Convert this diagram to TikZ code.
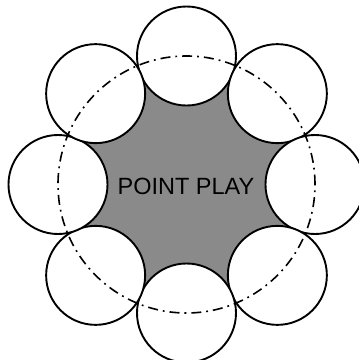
\documentclass[tikz,border=0pt]{standalone}
\usepackage{fontspec}
\setmainfont{Liberation Sans}
\usetikzlibrary{positioning}
\definecolor{mygray}{RGB}{138,138,138}
\pgfdeclarelayer{background}
\pgfsetlayers{background,main}

\begin{document}
\begin{tikzpicture}[x=1pt,y=1pt,
seat/.style={
  draw=black,
  fill=white,
  circle,
  line width=1.9pt,
  inner sep=0pt,
  minimum size=99pt},
ring/.style={
  draw=black,
  line width=1.6pt,
  dash pattern=on 10pt off 5pt on 1.8pt off 5pt},
]
\useasboundingbox (-186.5,-175.5) rectangle (172.5,184.5);
\coordinate (O) at (0,0);
\node[seat] (N) at (90:128.5) {};
\node[seat] (NE) at (45:128.5) {};
\node[seat] (E) at (0:128.5) {};
\node[seat] (SE) at (-45:128.5) {};
\node[seat] (S) at (-90:128.5) {};
\node[seat] (SW) at (-135:128.5) {};
\node[seat] (W) at (180:128.5) {};
\node[seat] (NW) at (135:128.5) {};
\node[font=\fontsize{23.5}{26}\selectfont] (PP) at (-0.5,-1.5) {POINT PLAY};
\begin{pgfonlayer}{background}
\fill[mygray] (O) circle (119);
\end{pgfonlayer}
\draw[ring] (O) circle (128.5);

\end{tikzpicture}
\end{document}
